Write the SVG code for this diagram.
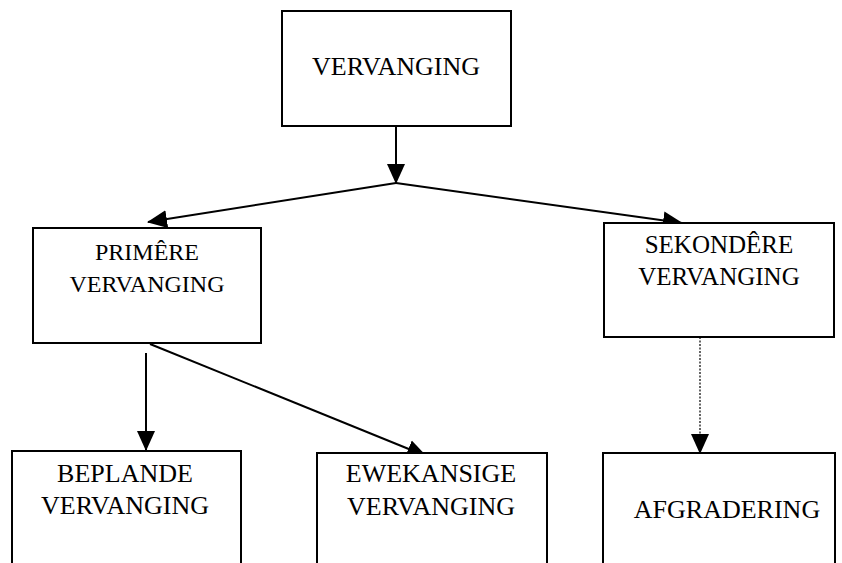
<svg xmlns="http://www.w3.org/2000/svg" width="842" height="563" viewBox="0 0 842 563">
<style>
.box{fill:#fff;stroke:#000;stroke-width:2}
.t{font-family:"Liberation Serif","Times New Roman",serif;font-size:26px;fill:#000;text-anchor:middle}
.c{stroke:#000;stroke-width:2;fill:none;marker-end:url(#ah)}
.d{stroke:#000;stroke-width:1.2;fill:none;stroke-dasharray:2 1.5;marker-end:url(#ah)}
</style>
<defs>
<marker id="ah" markerUnits="userSpaceOnUse" markerWidth="20" markerHeight="20" refX="19" refY="10" orient="auto" viewBox="0 0 20 20">
<path d="M0,1 L20,10 L0,19 z" fill="#000"/>
</marker>
</defs>
<rect width="842" height="563" fill="#fff"/>
<g id="connectors">
<line class="c" x1="396" y1="126" x2="396" y2="183"/>
<line class="c" x1="396" y1="183" x2="148" y2="222"/>
<line class="c" x1="396" y1="183" x2="682" y2="223"/>
<line class="c" x1="146" y1="353" x2="146" y2="450"/>
<line class="c" x1="150" y1="344" x2="426" y2="456"/>
<line class="d" x1="700" y1="337" x2="700" y2="453"/>
</g>
<g id="vervanging">
<rect class="box" x="282" y="11" width="229" height="115"/>
<text class="t" x="396" y="75">VERVANGING</text>
</g>
<g id="primere">
<rect class="box" x="33" y="228" width="228" height="115"/>
<text class="t" x="147" y="260" style="font-size:24px">PRIMÊRE</text>
<text class="t" x="147" y="292" style="font-size:24px">VERVANGING</text>
</g>
<g id="sekondere">
<rect class="box" x="604" y="223" width="230" height="114"/>
<text class="t" x="719" y="253" style="font-size:25px">SEKONDÊRE</text>
<text class="t" x="719" y="285" style="font-size:25px">VERVANGING</text>
</g>
<g id="beplande">
<rect class="box" x="12" y="451" width="229" height="130"/>
<text class="t" x="125" y="482">BEPLANDE</text>
<text class="t" x="125" y="514">VERVANGING</text>
</g>
<g id="ewekansige">
<rect class="box" x="317" y="453" width="230" height="130"/>
<text class="t" x="431" y="482">EWEKANSIGE</text>
<text class="t" x="431" y="515">VERVANGING</text>
</g>
<g id="afgradering">
<rect class="box" x="603" y="453" width="232" height="130"/>
<text class="t" x="727" y="518">AFGRADERING</text>
</g>
</svg>
